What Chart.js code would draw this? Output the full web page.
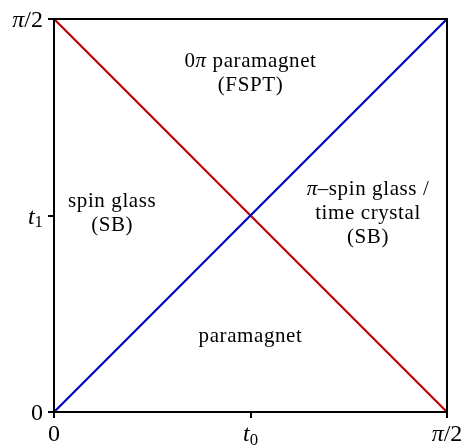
<!DOCTYPE html>
<html>
<head>
<meta charset="utf-8">
<script src="https://cdn.jsdelivr.net/npm/chart.js@4.4.1/dist/chart.umd.min.js"></script>
<style>
  html, body { margin: 0; padding: 0; background: #fff; }
  #wrap { width: 466px; height: 445px; }
</style>
</head>
<body>
<div id="wrap"><canvas id="myChart" width="466" height="445"></canvas></div>
<script>
// axis range and ticks (radians)
const halfPi = Math.PI / 2;
const xTicks = [0, Math.PI / 4, halfPi];
const yTicks = [0, Math.PI / 4, halfPi];
// tick labels: [text, italic?, subscript?] pieces
const xTickLabels = [
  [["0", false, false]],
  [["t", true, false], ["0", false, true]],
  [["π", true, false], ["/2", false, false]]
];
const yTickLabels = [
  [["0", false, false]],
  [["t", true, false], ["1", false, true]],
  [["π", true, false], ["/2", false, false]]
];

// phase boundaries
const boundaryX = [0, halfPi];
const risingY = [0, halfPi];
const fallingY = [halfPi, 0];

// region labels, each line is a list of pieces
const regionLines = [
  [[["0", false], ["π", true], [" paramagnet", false]], [["(FSPT)", false]]],
  [[["spin glass", false]], [["(SB)", false]]],
  [[["π", true], ["–spin glass /", false]], [["time crystal", false]], [["(SB)", false]]],
  [[["paramagnet", false]]]
];
// where to put them: fraction of plot width, fraction of plot height (first baseline)
const regionPos = [[0.5, 0.122], [0.148, 0.478], [0.799, 0.449], [0.5, 0.822]];

const serif = "'Liberation Serif', 'DejaVu Serif', serif";

function pts(xs, ys) {
  return xs.map((x, i) => ({ x: x, y: ys[i] }));
}

function drawPieces(ctx, pieces, x, y, size, align) {
  let total = 0;
  const widths = pieces.map(p => {
    const s = p[2] ? size * 0.7 : size;
    ctx.font = (p[1] ? "italic " : "") + s + "px " + serif;
    const w = ctx.measureText(p[0]).width;
    total += w;
    return w;
  });
  let cx = x;
  if (align === "center") cx = x - total / 2;
  if (align === "right") cx = x - total;
  pieces.forEach((p, i) => {
    const s = p[2] ? size * 0.7 : size;
    ctx.font = (p[1] ? "italic " : "") + s + "px " + serif;
    ctx.fillText(p[0], cx, p[2] ? y + size * 0.15 : y);
    cx += widths[i];
  });
}

const labelPlugin = {
  id: "labels",
  afterDraw(chart) {
    const ctx = chart.ctx;
    const a = chart.chartArea;
    const xs = chart.scales.x, ys = chart.scales.y;
    ctx.save();
    ctx.strokeStyle = "#000";
    ctx.lineWidth = 2;
    ctx.strokeRect(a.left, a.top, a.right - a.left, a.bottom - a.top);

    // outward tick marks
    ctx.beginPath();
    xTicks.forEach(v => {
      const px = Math.round(xs.getPixelForValue(v));
      ctx.moveTo(px, a.bottom);
      ctx.lineTo(px, a.bottom + 6);
    });
    yTicks.forEach(v => {
      const py = Math.round(ys.getPixelForValue(v));
      ctx.moveTo(a.left, py);
      ctx.lineTo(a.left - 6, py);
    });
    ctx.stroke();

    ctx.fillStyle = "#000";
    ctx.textBaseline = "alphabetic";
    xTicks.forEach((v, i) => {
      drawPieces(ctx, xTickLabels[i], xs.getPixelForValue(v), a.bottom + 29, 24, "center");
    });
    yTicks.forEach((v, i) => {
      drawPieces(ctx, yTickLabels[i], 43, ys.getPixelForValue(v) + 8, 24, "right");
    });

    ctx.letterSpacing = "0.6px";
    regionLines.forEach((lines, i) => {
      const px = a.left + regionPos[i][0] * (a.right - a.left);
      let py = a.top + regionPos[i][1] * (a.bottom - a.top);
      lines.forEach(line => {
        drawPieces(ctx, line, px, py, 21, "center");
        py += 24;
      });
    });
    ctx.restore();
  }
};

const ctx = document.getElementById("myChart").getContext("2d");
const myChart = new Chart(ctx, {
  type: "scatter",
  data: {
    datasets: [
      {
        data: pts(boundaryX, risingY),
        showLine: true,
        borderColor: "#0000c0",
        borderWidth: 2.2,
        pointRadius: 0
      },
      {
        data: pts(boundaryX, fallingY),
        showLine: true,
        borderColor: "#c00000",
        borderWidth: 2.2,
        pointRadius: 0
      }
    ]
  },
  options: {
    responsive: false,
    animation: false,
    layout: { padding: { top: 19, right: 19, left: 0, bottom: 0 } },
    plugins: { legend: { display: false }, tooltip: { enabled: false } },
    scales: {
      x: {
        type: "linear",
        min: 0,
        max: halfPi,
        afterBuildTicks: s => { s.ticks = xTicks.map(v => ({ value: v })); },
        afterFit: s => { s.height = 33; },
        ticks: { display: false },
        grid: { display: false },
        border: { display: true, color: "#000", width: 2 }
      },
      y: {
        type: "linear",
        min: 0,
        max: halfPi,
        afterBuildTicks: s => { s.ticks = yTicks.map(v => ({ value: v })); },
        afterFit: s => { s.width = 54; },
        ticks: { display: false },
        grid: { display: false },
        border: { display: true, color: "#000", width: 2 }
      }
    }
  },
  plugins: [labelPlugin]
});
</script>
</body>
</html>
